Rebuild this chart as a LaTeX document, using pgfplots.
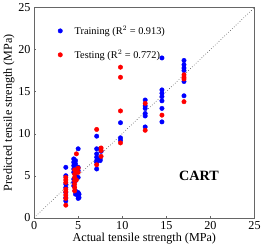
\documentclass[border=0pt]{standalone}
\usepackage{fontspec}
\setmainfont{Liberation Serif}
\usepackage{pgfplots}
\pgfplotsset{compat=1.18}
\begin{document}
\begin{tikzpicture}
\begin{axis}[
  width=217bp, height=207bp, scale only axis,
  xmin=0, xmax=25, ymin=0, ymax=25,
  xtick={0,5,10,15,20,25}, ytick={0,5,10,15,20,25},
  axis line style={black!60},
  tick style={black!60},
  major tick length=2pt,
  tick align=inside,
  xtick pos=bottom, ytick pos=left,
  /pgf/number format/assume math mode=true,
  ticklabel style={font=\fontsize{12}{12}\selectfont},
  xlabel={Actual tensile strength (MPa)},
  ylabel={Predicted tensile strength (MPa)},
  label style={font=\fontsize{12}{12}\selectfont},
  xlabel style={yshift=3pt},
  ylabel style={yshift=-3pt},
  legend style={draw=none, fill=none, at={(axis cs:2.35,23.3)}, anchor=north west, font=\fontsize{10.2}{10.2}\selectfont, row sep=10pt},
  legend cell align=left,
  legend image code/.code={\draw[#1] plot coordinates {(0.3cm,0cm)};},
  clip=false,
]
\addplot[black!70, dotted, line width=0.6pt, forget plot] coordinates {(0,0) (25,25)};
\addplot[only marks, mark=*, mark size=2.2pt, blue, draw=blue, fill=blue] coordinates {
(3.6,6.0)(3.6,5.0)(3.6,4.0)(3.6,3.6)(3.6,3.0)(3.6,2.4)(3.6,2.0)
(4.5,7.0)(4.5,6.6)(4.5,6.2)(4.5,5.8)(4.5,5.4)(4.5,4.6)(4.5,4.2)(4.5,3.8)
(4.7,6.8)(4.7,6.4)(4.7,5.0)(4.7,4.4)(4.7,3.2)(4.7,2.8)
(5.0,8.2)(5.0,6.0)(5.0,5.6)(5.0,4.8)(5.0,3.0)(5.0,2.6)(5.0,2.3)
(5.1,2.4)(5.1,2.8)
(7.1,9.7)(7.1,8.2)(7.1,7.6)(7.1,7.2)(7.1,6.8)(7.1,6.6)(7.1,5.8)
(7.5,8.2)(7.5,7.0)(7.5,6.8)(7.6,7.9)
(9.8,11.3)(9.8,9.5)(9.8,9.2)
(12.6,14.0)(12.6,13.3)(12.6,13.0)(12.6,12.4)(12.6,12.1)(12.6,10.8)
(14.5,19.0)(14.5,15.2)(14.5,14.8)(14.5,14.4)(14.5,13.9)(14.5,13.0)(14.5,11.4)
(17.0,18.7)(17.0,18.2)(17.0,17.8)(17.0,17.5)(17.0,16.2)(17.0,14.5)
};
\addlegendentry{\hspace{10pt}Training (R$^{2}$ = 0.913)}
\addplot[only marks, mark=*, mark size=2.2pt, red, draw=red, fill=red] coordinates {
(3.6,4.8)(3.6,4.5)(3.6,4.2)(3.6,3.4)(3.6,3.1)(3.6,2.7)(3.6,2.3)(3.6,1.5)
(4.6,5.7)(4.6,5.2)(4.6,4.8)(4.6,4.4)(4.6,4.0)(4.6,3.6)(4.6,3.2)(4.8,7.6)(4.8,5.5)(4.8,4.5)(5.0,5.9)(5.0,5.4)
(7.1,10.5)(7.1,6.3)(7.6,8.3)(7.6,7.3)(7.6,8.0)
(9.8,17.9)(9.8,16.7)(9.8,12.7)(9.8,8.9)
(12.6,13.6)(12.6,10.4)
(14.5,12.2)
(17.0,17.0)(17.0,16.7)(17.0,16.5)(17.0,13.8)
};
\addlegendentry{\hspace{10pt}Testing (R$^{2}$ = 0.772)}
\node[font=\fontsize{14}{14}\selectfont\bfseries] at (axis cs:18.7,4.95) {CART};
\end{axis}
\end{tikzpicture}
\end{document}
